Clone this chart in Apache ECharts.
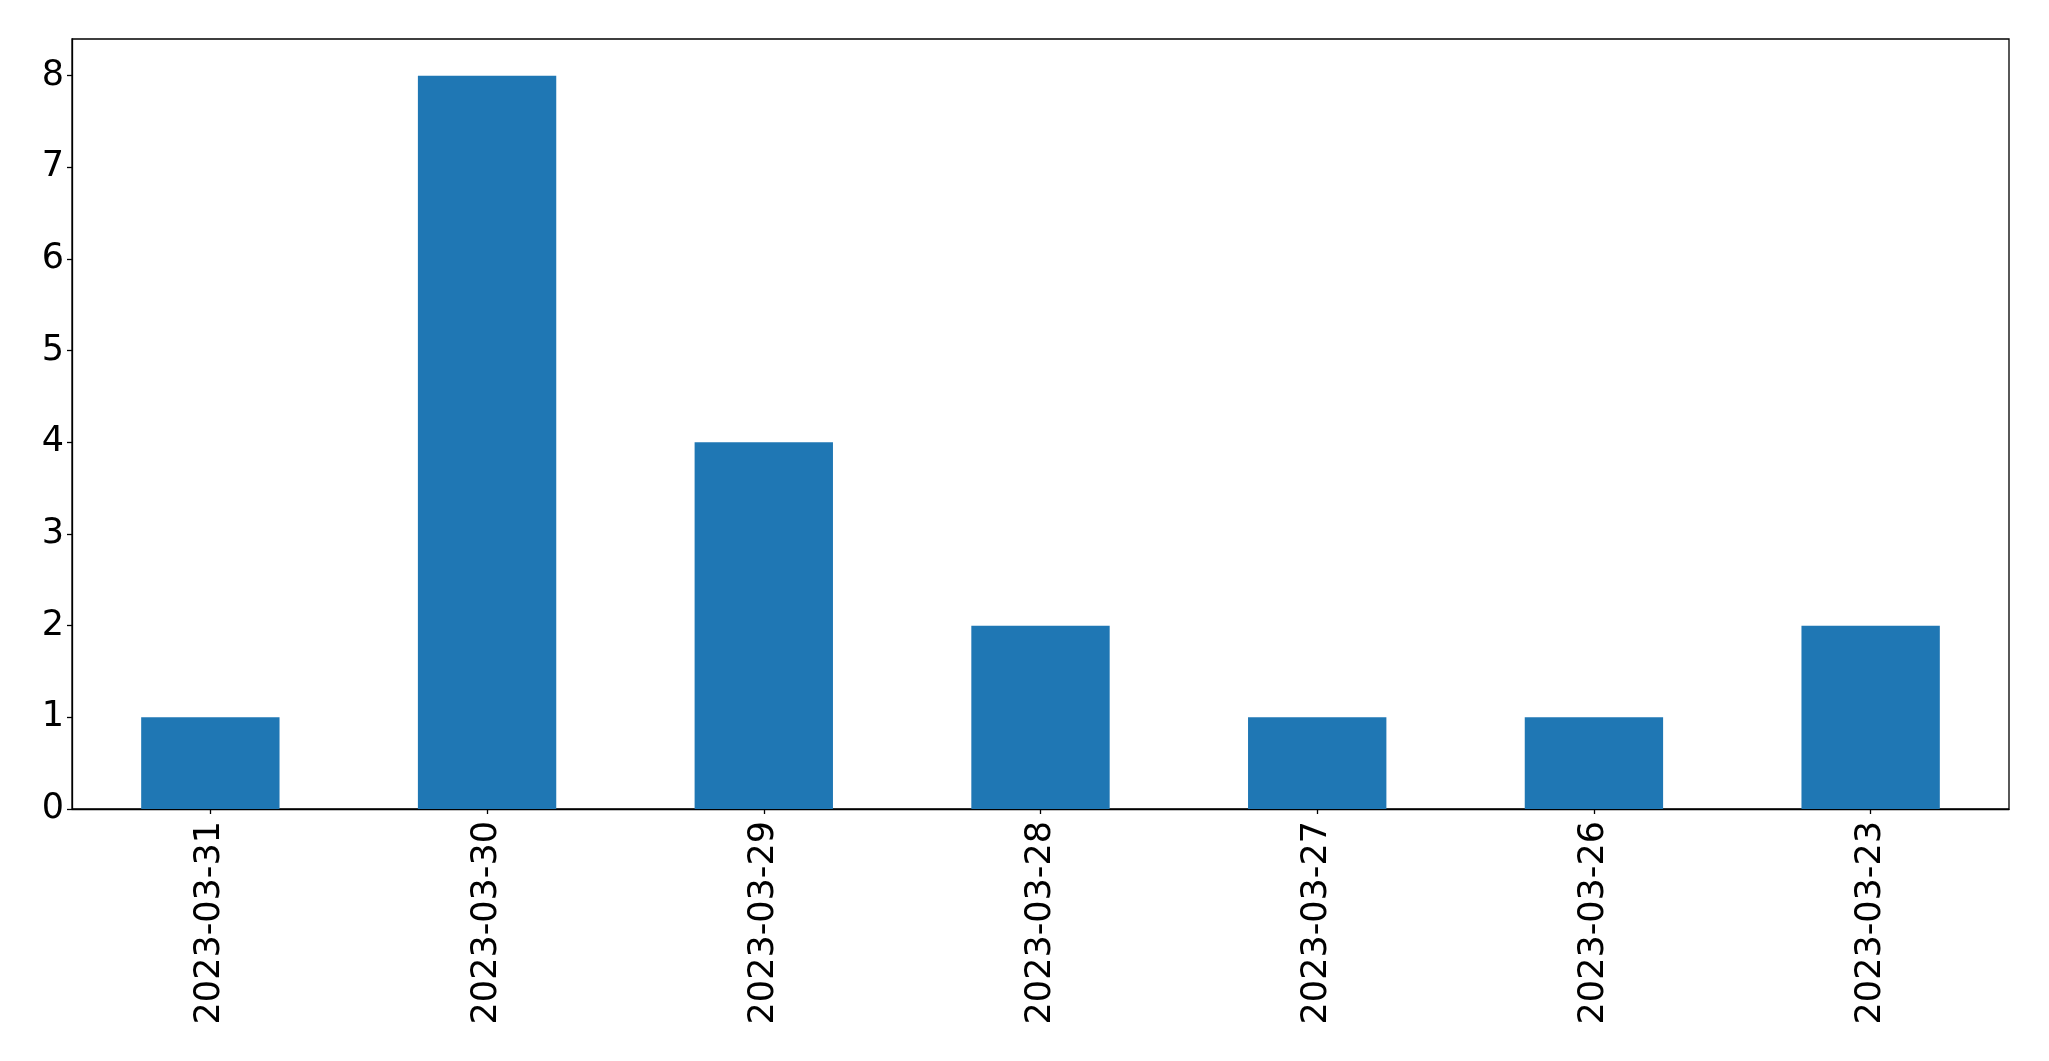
<!DOCTYPE html>
<html>
<head>
<meta charset="utf-8">
<script src="https://cdn.jsdelivr.net/npm/echarts@6/dist/echarts.min.js"></script>
<style>html,body{margin:0;padding:0;background:#fff;}#c{width:2049px;height:1061px;}</style>
</head>
<body>
<div id="c"></div>
<script>
const categories = ["2023-03-31","2023-03-30","2023-03-29","2023-03-28","2023-03-27","2023-03-26","2023-03-23"];
const counts = [1, 8, 4, 2, 1, 1, 2];
const yTicks = [0, 1, 2, 3, 4, 5, 6, 7, 8];

const chart = echarts.init(document.getElementById('c'), null, {renderer: 'canvas'});
const font = 'DejaVu Sans';
chart.setOption({
  animation: false,
  grid: {left: 72, right: 40, top: 39, bottom: 252, show: true, borderColor: '#000', borderWidth: 1.3, backgroundColor: 'transparent'},
  xAxis: {
    type: 'category',
    data: categories,
    boundaryGap: true,
    axisLine: {show: true, lineStyle: {color: '#000', width: 1.3}},
    axisTick: {show: true, alignWithLabel: true, length: 5, lineStyle: {color: '#000', width: 1.3}},
    axisLabel: {rotate: 90, fontSize: 35, color: '#000', fontFamily: font, margin: 12, interval: 0}
  },
  yAxis: {
    type: 'value',
    min: 0,
    max: 8.4,
    interval: 1,
    splitLine: {show: false},
    axisLine: {show: true, lineStyle: {color: '#000', width: 1.3}},
    axisTick: {show: true, length: 5, lineStyle: {color: '#000', width: 1.3}, customValues: yTicks},
    axisLabel: {fontSize: 35, color: '#000', fontFamily: font, margin: 8, customValues: yTicks}
  },
  series: [{
    type: 'bar',
    data: counts,
    barCategoryGap: '50%',
    itemStyle: {color: '#1f77b4'}
  }]
});
</script>
</body>
</html>
